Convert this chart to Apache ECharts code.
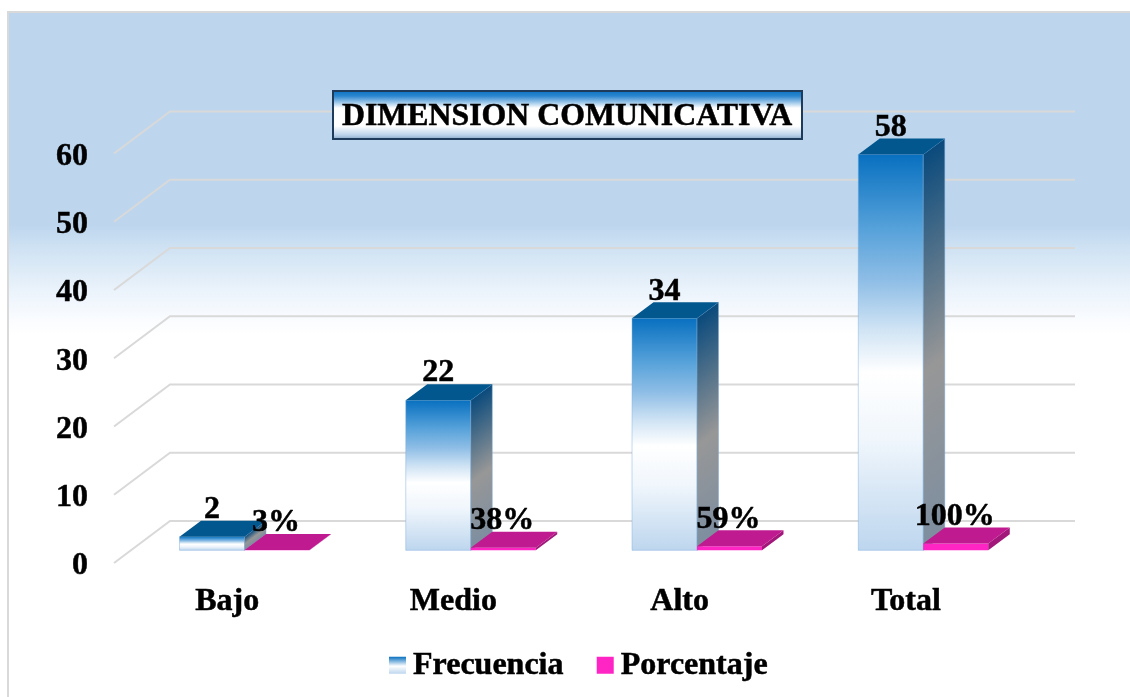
<!DOCTYPE html>
<html>
<head>
<meta charset="utf-8">
<title>Dimension comunicativa</title>
<script src="https://cdn.jsdelivr.net/npm/echarts@6/dist/echarts.min.js"></script>
<style>
  html, body { margin: 0; padding: 0; background: #fff; }
  #chart { width: 1130px; height: 697px; }
</style>
</head>
<body>
<div id="chart"></div>
<script>
const categories = ['Bajo', 'Medio', 'Alto', 'Total'];
const frecuencia = [2, 22, 34, 58];
const porcentaje = [0.03, 0.38, 0.59, 1];
const porcentajeLabels = ['3%', '38%', '59%', '100%'];
const yTicks = [0, 10, 20, 30, 40, 50, 60];

const FONT = '"Liberation Serif", serif';
// the reference text is a bit heavier than plain bold
const HEAVY = { textBorderColor: '#000', textBorderWidth: 0.5 };
// offset of the back wall from the axis plane
const WALL_DX = 56, WALL_DY = 42;
// bars sit half way into the floor
const BAR_W = 65, BAR_DX = 21.5, BAR_DY = 16, BAR_SHIFT_X = 17.4, BAR_SHIFT_Y = 12.7;

const blueStops = [
  { offset: 0, color: '#0870c0' },
  { offset: 0.19, color: '#57a2da' },
  { offset: 0.32, color: '#8fbee6' },
  { offset: 0.44, color: '#cfe3f4' },
  { offset: 0.55, color: '#ffffff' },
  { offset: 0.72, color: '#f0f6fc' },
  { offset: 1, color: '#bdd6ee' }
];
const sideStops = [
  { offset: 0, color: '#0a4a7c' },
  { offset: 0.55, color: '#979797' },
  { offset: 1, color: '#7d8ea0' }
];

function boxItem(api, left, palette, text) {
  const base = api.coord([api.value(0), 0]);
  const top = api.coord([api.value(0), api.value(1)]);
  const x = base[0] + left;
  const y0 = base[1] - BAR_SHIFT_Y;
  const y1 = top[1] - BAR_SHIFT_Y;
  const h = y0 - y1;
  const x1 = x + BAR_W;
  const edge = palette.edge ? { stroke: palette.edge, lineWidth: 1 } : {};
  return {
    type: 'group',
    children: [
      {
        type: 'rect',
        shape: { x: x, y: y1, width: BAR_W, height: h },
        style: Object.assign({ fill: palette.front(x, y1, h) }, edge)
      },
      {
        type: 'polygon',
        shape: { points: [[x1, y1], [x1 + BAR_DX, y1 - BAR_DY], [x1 + BAR_DX, y0 - BAR_DY], [x1, y0]] },
        style: Object.assign({ fill: palette.side(x1, y1, h) }, edge)
      },
      {
        type: 'polygon',
        shape: { points: [[x, y1], [x + BAR_DX, y1 - BAR_DY], [x1 + BAR_DX, y1 - BAR_DY], [x1, y1]] },
        style: { fill: palette.top }
      },
      {
        type: 'text',
        z2: 10,
        style: {
          x: x + BAR_W / 2 - palette.labelDx,
          y: y1 - 27,
          text: text,
          fill: '#000',
          stroke: '#000',
          lineWidth: 0.5,
          font: 'bold 32px ' + FONT,
          align: 'center',
          verticalAlign: 'middle'
        }
      }
    ]
  };
}

const bluePalette = {
  edge: 'rgba(120,170,220,0.45)',
  top: '#02578f',
  labelDx: 0,
  front: (x, y, h) => ({ type: 'linear', x: 0, y: y, x2: 0, y2: y + h, global: true, colorStops: blueStops }),
  // isolines follow the depth direction of the box
  side: (x, y, h) => ({ type: 'linear', x: x, y: y, x2: x + 0.482 * h, y2: y + 0.633 * h, global: true, colorStops: sideStops })
};
const pinkPalette = {
  top: '#c01a90',
  labelDx: 1,
  front: () => '#ff24c4',
  side: () => '#a2187a'
};

const option = {
  animation: false,
  backgroundColor: '#fff',
  graphic: [{
    type: 'rect',
    z: -10,
    shape: { x: 8, y: 12, width: 1130, height: 700 },
    style: {
      stroke: '#d9d9d9',
      lineWidth: 2,
      fill: {
        type: 'linear', x: 0, y: 12, x2: 0, y2: 340, global: true,
        colorStops: [
          { offset: 0, color: '#bdd6ee' },
          { offset: 0.65, color: '#bdd6ee' },
          { offset: 0.72, color: '#cfe2f3' },
          { offset: 0.85, color: '#ebf3fb' },
          { offset: 0.94, color: '#fafcff' },
          { offset: 0.985, color: '#ffffff' }
        ]
      }
    }
  }],
  title: {
    text: 'DIMENSION COMUNICATIVA',
    left: 333,
    top: 92,
    padding: [10, 10, 6, 9],
    borderColor: '#1f3b5c',
    borderWidth: 2,
    backgroundColor: {
      type: 'linear', x: 0, y: 0, x2: 0, y2: 1,
      colorStops: [
        { offset: 0, color: '#0870c0' },
        { offset: 0.12, color: '#2b86cf' },
        { offset: 0.36, color: '#ffffff' },
        { offset: 0.72, color: '#ffffff' },
        { offset: 0.9, color: '#bcd3ea' },
        { offset: 1, color: '#7fa0c0' }
      ]
    },
    textStyle: Object.assign({ fontFamily: FONT, fontWeight: 'bold', fontSize: 31.8, color: '#000', lineHeight: 30 }, HEAVY),
    z: 20
  },
  legend: {
    left: 384,
    top: 644,
    itemWidth: 17,
    itemHeight: 17,
    itemGap: 33,
    textStyle: Object.assign({ fontFamily: FONT, fontWeight: 'bold', fontSize: 32, color: '#000', padding: [5, 0, 0, 2] }, HEAVY),
    data: [
      {
        name: 'Frecuencia',
        icon: 'rect',
        itemStyle: {
          color: { type: 'linear', x: 0, y: 0, x2: 0, y2: 1, colorStops: [
            { offset: 0, color: '#0870c0' }, { offset: 0.55, color: '#ffffff' }, { offset: 1, color: '#bdd6ee' }
          ] }
        }
      },
      { name: 'Porcentaje', icon: 'rect', itemStyle: { color: '#ff24c4' } }
    ]
  },
  grid: { left: 114, top: 153.5, width: 905, height: 409.5 },
  xAxis: {
    type: 'category',
    data: categories,
    axisLine: { show: false },
    axisTick: { show: false },
    axisLabel: Object.assign({ margin: 23, color: '#000', fontFamily: FONT, fontWeight: 'bold', fontSize: 32 }, HEAVY)
  },
  yAxis: {
    type: 'value',
    min: 0,
    max: 60,
    interval: 10,
    splitLine: { show: false },
    axisLine: { show: false },
    axisTick: { show: false },
    axisLabel: {
      margin: 26,
      formatter: '{v|{value}}',
      rich: {
        v: Object.assign({ padding: [6, 0, 0, 0], color: '#000', fontFamily: FONT, fontWeight: 'bold', fontSize: 32 }, HEAVY)
      }
    }
  },
  series: [
    {
      // gridlines with their floor-side return, drawn from the y ticks
      type: 'custom',
      silent: true,
      z: 1,
      data: yTicks.map(t => [0, t]),
      encode: { x: 0, y: 1 },
      renderItem(params, api) {
        const y = api.coord([0, api.value(1)])[1];
        const cs = params.coordSys;
        return {
          type: 'polyline',
          shape: { points: [[cs.x, y], [cs.x + WALL_DX, y - WALL_DY], [cs.x + cs.width + WALL_DX, y - WALL_DY]] },
          style: { stroke: '#d9d9d9', lineWidth: 2, fill: 'none' }
        };
      }
    },
    {
      name: 'Frecuencia',
      type: 'custom',
      z: 3,
      data: frecuencia.map((v, i) => [i, v]),
      encode: { x: 0, y: 1 },
      renderItem(params, api) {
        return boxItem(api, BAR_SHIFT_X - BAR_W, bluePalette, String(frecuencia[params.dataIndex]));
      }
    },
    {
      name: 'Porcentaje',
      type: 'custom',
      z: 4,
      data: porcentaje.map((v, i) => [i, v]),
      encode: { x: 0, y: 1 },
      renderItem(params, api) {
        return boxItem(api, BAR_SHIFT_X, pinkPalette, porcentajeLabels[params.dataIndex]);
      }
    }
  ]
};

const chart = echarts.init(document.getElementById('chart'));
chart.setOption(option);
</script>
</body>
</html>
